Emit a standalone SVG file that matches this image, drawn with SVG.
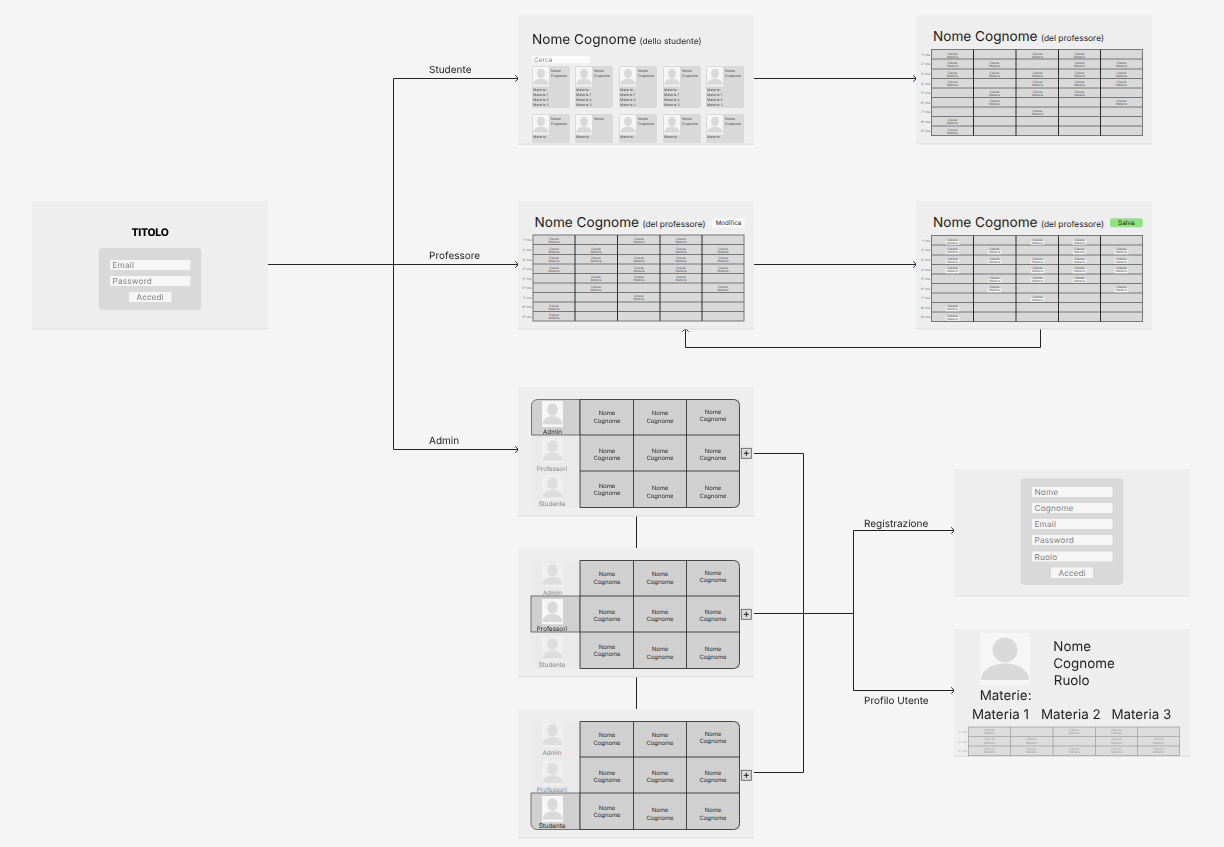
<svg xmlns="http://www.w3.org/2000/svg" width="1224" height="847" viewBox="0 0 1224 847">
<style>
text{font-family:Inter,"Noto Sans","Liberation Sans",sans-serif;fill:#1a1a1a;text-rendering:geometricPrecision}
.panel{fill:#eeeeee}
.sh{fill:#e3e3e3}
.card{fill:#d9d9d9}
.inp{fill:#f6f6f6}
.ph{font-size:8.2px;fill:#808080;letter-spacing:.2px}
.btn{font-size:8.2px;fill:#808080;text-anchor:middle}
.t1{font-size:13.6px}
.t2{font-size:8.4px}
.lab{font-size:10px}
.s{font-size:3.5px;fill:#444}
.c{font-size:3.1px;fill:#555;text-anchor:middle}
.r{font-size:3.1px;fill:#666;text-anchor:end}
.fc{font-size:3.1px;fill:#999;text-anchor:middle}
.fr{font-size:3.1px;fill:#aaa;text-anchor:end}
.n{font-size:5.9px;fill:#2a2a2a;text-anchor:middle}
.al{font-size:6.3px;text-anchor:middle}
.off{fill:#888}
.on{fill:#222}
.big{font-size:13.4px;fill:#222}
.conn path{fill:none;stroke:#222;stroke-width:1}
.arr{marker-end:url(#a)}
.gb{fill:#d9d9d9;stroke:#757575;stroke-width:1}
.gh{stroke:#757575;stroke-width:1}
.gv{stroke:#2a2a2a;stroke-width:1}
.acell{fill:#d0d0d0}
.ag{stroke:#333;stroke-width:.9;fill:none}
</style>
<defs>
<marker id="a" markerUnits="userSpaceOnUse" markerWidth="8" markerHeight="8" refX="4.5" refY="4" orient="auto"><path d="M1.800 .8L4.800 4L1.800 7.200" fill="none" stroke="#222" stroke-width="1"/></marker>
<symbol id="av" viewBox="0 0 50 52" preserveAspectRatio="none"><rect width="50" height="52" fill="#f6f6f6"/><circle cx="25" cy="17" r="12.500" fill="#d9d9d9"/><path d="M1 47C1 37 12 30.500 25 30.500C38 30.500 49 37 49 47Z" fill="#d9d9d9"/></symbol>
<symbol id="avf" viewBox="0 0 50 52" preserveAspectRatio="none"><rect width="50" height="52" fill="#efefef"/><circle cx="25" cy="17" r="12.500" fill="#dddddd"/><path d="M1 47C1 37 12 30.500 25 30.500C38 30.500 49 37 49 47Z" fill="#dddddd"/></symbol>
<g id="grid">
<rect class="gb" width="211" height="86"/>
<path class="gh" d="M0 9.500H211M0 19.500H211M0 29H211M0 38.500H211M0 48H211M0 57.500H211M0 67H211M0 76.500H211"/>
<path class="gv" d="M42 0V86M84.500 0V86M127 0V86M169 0V86"/>
<text class="r" x="-1.500" y="6">1° ora</text><text class="r" x="-1.500" y="15.500">2° ora</text><text class="r" x="-1.500" y="25.500">3° ora</text><text class="r" x="-1.500" y="35">4° ora</text><text class="r" x="-1.500" y="44.500">5° ora</text><text class="r" x="-1.500" y="54">6° ora</text><text class="r" x="-1.500" y="63.500">7° ora</text><text class="r" x="-1.500" y="73">8° ora</text><text class="r" x="-1.500" y="82.500">9° ora</text>
</g>
<g id="cells">
<text class="c" x="21" y="5">Classe</text><text class="c" x="21" y="8.200">Materia</text>
<text class="c" x="106" y="5">Classe</text><text class="c" x="106" y="8.200">Materia</text>
<text class="c" x="148" y="5">Classe</text><text class="c" x="148" y="8.200">Materia</text>
<text class="c" x="21" y="14.500">Classe</text><text class="c" x="21" y="17.700">Materia</text>
<text class="c" x="63" y="14.500">Classe</text><text class="c" x="63" y="17.700">Materia</text>
<text class="c" x="148" y="14.500">Classe</text><text class="c" x="148" y="17.700">Materia</text>
<text class="c" x="190" y="14.500">Classe</text><text class="c" x="190" y="17.700">Materia</text>
<text class="c" x="21" y="24">Classe</text><text class="c" x="21" y="27.200">Materia</text>
<text class="c" x="63" y="24">Classe</text><text class="c" x="63" y="27.200">Materia</text>
<text class="c" x="106" y="24">Classe</text><text class="c" x="106" y="27.200">Materia</text>
<text class="c" x="148" y="24">Classe</text><text class="c" x="148" y="27.200">Materia</text>
<text class="c" x="190" y="24">Classe</text><text class="c" x="190" y="27.200">Materia</text>
<text class="c" x="21" y="33.500">Classe</text><text class="c" x="21" y="36.700">Materia</text>
<text class="c" x="106" y="33.500">Classe</text><text class="c" x="106" y="36.700">Materia</text>
<text class="c" x="148" y="33.500">Classe</text><text class="c" x="148" y="36.700">Materia</text>
<text class="c" x="190" y="33.500">Classe</text><text class="c" x="190" y="36.700">Materia</text>
<text class="c" x="63" y="43">Classe</text><text class="c" x="63" y="46.200">Materia</text>
<text class="c" x="106" y="43">Classe</text><text class="c" x="106" y="46.200">Materia</text>
<text class="c" x="148" y="43">Classe</text><text class="c" x="148" y="46.200">Materia</text>
<text class="c" x="63" y="52.500">Classe</text><text class="c" x="63" y="55.700">Materia</text>
<text class="c" x="190" y="52.500">Classe</text><text class="c" x="190" y="55.700">Materia</text>
<text class="c" x="106" y="62">Classe</text><text class="c" x="106" y="65.200">Materia</text>
<text class="c" x="21" y="71.500">Classe</text><text class="c" x="21" y="74.700">Materia</text>
<text class="c" x="21" y="81">Classe</text><text class="c" x="21" y="84.200">Materia</text>
</g>
<g id="chip"><rect x="-6.700" y="-2.800" width="13.400" height="3.800" fill="#f6f6f6"/></g>
<g id="scard">
<rect class="card" width="38" height="42" rx="2.500"/><use href="#av" x="1" y="1" width="16" height="19.500"/>
<text class="s" x="19" y="6">Nome</text><text class="s" x="19" y="11">Cognome</text>
<text class="s" x="1" y="25">Materie:</text><text class="s" x="1" y="30">Materia 1</text><text class="s" x="1" y="35">Materia 2</text><text class="s" x="1" y="40">Materia 3</text>
</g>
<g id="scard2">
<rect class="card" width="38" height="29" rx="2.500"/><use href="#av" x="1" y="1" width="16" height="19.500"/>
<text class="s" x="19" y="6">Nome</text><text class="s" x="19" y="11">Cognome</text>
<text class="s" x="1" y="24">Materie:</text>
</g>
<g id="atable">
<rect class="acell" x="580" y="399.500" width="159.500" height="108"/>
<path d="M580 399.500H733.500a6 6 0 0 1 6 6V501.500a6 6 0 0 1-6 6H580" class="ag"/>
<path class="ag" d="M580 399.500V507.500M633.500 399.500V507.500M686.500 399.500V507.500M580 435H739.500M580 471H739.500"/>
<text class="n" x="607" y="415">Nome</text><text class="n" x="607" y="422.500">Cognome</text>
<text class="n" x="660" y="415">Nome</text><text class="n" x="660" y="422.500">Cognome</text>
<text class="n" x="713" y="413.500">Nome</text><text class="n" x="713" y="421">Cognome</text>
<text class="n" x="607" y="452.500">Nome</text><text class="n" x="607" y="460">Cognome</text>
<text class="n" x="660" y="452.500">Nome</text><text class="n" x="660" y="460">Cognome</text>
<text class="n" x="713" y="452.500">Nome</text><text class="n" x="713" y="460">Cognome</text>
<text class="n" x="607" y="487.500">Nome</text><text class="n" x="607" y="495">Cognome</text>
<text class="n" x="660" y="490">Nome</text><text class="n" x="660" y="497.500">Cognome</text>
<text class="n" x="713" y="490">Nome</text><text class="n" x="713" y="497.500">Cognome</text>
<rect x="741.300" y="448.300" width="10" height="10" fill="#dcdcdc" stroke="#555" stroke-width=".8"/>
<path d="M743.800 453.300h5M746.300 450.800v5" stroke="#222" stroke-width="1"/>
</g>
<clipPath id="pc"><rect x="518" y="15" width="236" height="128.500"/></clipPath>
</defs>
<rect width="1224" height="847" fill="#f5f5f5"/>
<g opacity=".995">

<g id="connectors" class="conn">
<path class="arr" d="M268 264.500H518"/>
<path class="arr" d="M393.500 264.500V78.500H518"/>
<path class="arr" d="M393.500 264.500V449.500H518"/>
<path class="arr" d="M754 78.500H916"/>
<path class="arr" d="M754 264.500H916"/>
<path class="arr" d="M1040.500 328V347.500H685.500V329"/>
<path d="M636.500 515V548M636.500 676V709"/>
<path d="M752 453.500H803.500V772.500H752"/>
<path d="M752 613.500H853.500"/>
<path class="arr" d="M853.500 613.500V530.500H954"/>
<path class="arr" d="M853.500 613.500V690.500H954"/>
<text class="lab" x="429" y="73">Studente</text>
<text class="lab" x="429" y="258.500">Professore</text>
<text class="lab" x="429" y="443.500">Admin</text>
<text class="lab" x="864" y="527">Registrazione</text>
<text class="lab" x="864" y="704">Profilo Utente</text>
</g>

<g id="login">
<rect class="sh" x="32" y="202.500" width="236" height="127"/><rect class="panel" x="32" y="201" width="236" height="127"/>
<text x="150" y="236" font-size="10.500" font-weight="800" letter-spacing="-.3" text-anchor="middle" style="fill:#000">TITOLO</text>
<rect class="card" x="98.700" y="248" width="102.600" height="62" rx="4"/>
<rect class="inp" x="110" y="260" width="80.500" height="10" rx="1"/><text class="ph" x="112.500" y="268">Email</text>
<rect class="inp" x="110" y="276" width="80.500" height="10" rx="1"/><text class="ph" x="112.500" y="284">Password</text>
<rect class="inp" x="129" y="292" width="42.500" height="10" rx="1"/><text class="btn" x="150" y="300">Accedi</text>
</g>

<g id="student">
<rect class="sh" x="518" y="16.500" width="236" height="128.500"/><rect class="panel" x="518" y="15" width="236" height="128.500"/>
<text class="t1" x="532" y="44.300">Nome Cognome</text><text class="t2" x="639.500" y="44">(dello studente)</text>
<rect x="532" y="56" width="58" height="7" fill="#fbfbfb"/><text x="534" y="62" font-size="6.500" style="fill:#888">Cerca</text>
<use href="#scard" x="532" y="66"/><use href="#scard" x="575" y="66"/><use href="#scard" x="619" y="66"/><use href="#scard" x="663" y="66"/><use href="#scard" x="706" y="66"/>
<g clip-path="url(#pc)">
<use href="#scard2" x="532" y="114"/>
<rect class="card" x="575" y="114" width="38" height="29" rx="2.500"/><use href="#av" x="576" y="115" width="16" height="19.500"/><text class="s" x="594" y="120">Nome</text><text class="s" x="576" y="138">Materie:</text>
<use href="#scard2" x="619" y="114"/><use href="#scard2" x="663" y="114"/><use href="#scard2" x="706" y="114"/>
</g>
</g>

<g id="prof-view">
<rect class="sh" x="916" y="16.500" width="236" height="128"/><rect class="panel" x="916" y="15" width="236" height="128"/>
<text class="t1" x="933" y="40.800">Nome Cognome</text><text class="t2" x="1041" y="41">(del professore)</text>
<g transform="translate(931.500 49.500)"><use href="#grid"/><use href="#cells"/></g>
</g>

<g id="prof">
<rect class="sh" x="518" y="202.500" width="236" height="127"/><rect class="panel" x="518" y="201" width="236" height="127"/>
<text class="t1" x="534.500" y="226.800">Nome Cognome</text><text class="t2" x="642.500" y="227">(del professore)</text>
<rect x="712" y="218.500" width="33" height="9" rx="2" fill="#fafafa"/><text x="728.500" y="225.300" font-size="6.200" text-anchor="middle">Modifica</text>
<g transform="translate(533 235)"><use href="#grid"/><use href="#cells"/></g>
</g>

<g id="prof-edit">
<rect class="sh" x="916" y="202.500" width="236" height="127"/><rect class="panel" x="916" y="201" width="236" height="127"/>
<text class="t1" x="933" y="226.800">Nome Cognome</text><text class="t2" x="1041" y="227">(del professore)</text>
<rect x="1110" y="218.300" width="32.700" height="9" rx="2" fill="#8fe282"/><text x="1126.400" y="225.200" font-size="6.500" text-anchor="middle">Salva</text>
<g transform="translate(931.500 235.500)"><use href="#grid"/>
<use href="#chip" x="21" y="8.200"/><use href="#chip" x="106" y="8.200"/><use href="#chip" x="148" y="8.200"/>
<use href="#chip" x="21" y="17.700"/><use href="#chip" x="63" y="17.700"/><use href="#chip" x="148" y="17.700"/><use href="#chip" x="190" y="17.700"/>
<use href="#chip" x="21" y="27.200"/><use href="#chip" x="63" y="27.200"/><use href="#chip" x="106" y="27.200"/><use href="#chip" x="148" y="27.200"/><use href="#chip" x="190" y="27.200"/>
<use href="#chip" x="21" y="36.700"/><use href="#chip" x="106" y="36.700"/><use href="#chip" x="148" y="36.700"/><use href="#chip" x="190" y="36.700"/>
<use href="#chip" x="63" y="46.200"/><use href="#chip" x="106" y="46.200"/><use href="#chip" x="148" y="46.200"/>
<use href="#chip" x="63" y="55.700"/><use href="#chip" x="190" y="55.700"/>
<use href="#chip" x="106" y="65.200"/><use href="#chip" x="21" y="74.700"/><use href="#chip" x="21" y="84.200"/>
<use href="#cells"/></g>
</g>

<g id="admin-1">
<rect class="sh" x="518" y="388.500" width="236" height="128"/><rect class="panel" x="518" y="387" width="236" height="128"/>
<path d="M531.500 435V405.500a6 6 0 0 1 6-6H580V507.500H537.500a6 6 0 0 1-6-6Z" fill="#eaeaea"/>
<path d="M531.500 435V405.500a6 6 0 0 1 6-6H580V435Z" fill="#d0d0d0" stroke="#555" stroke-width=".8"/>
<use href="#av" x="542" y="401" width="21" height="26"/><text class="al on" x="552.500" y="433.500">Admin</text>
<use href="#avf" x="542" y="438" width="21" height="25"/><text class="al off" x="552" y="470.500">Professori</text>
<use href="#avf" x="542" y="475" width="21" height="25"/><text class="al off" x="552" y="505.500">Studente</text>
<use href="#atable"/>
</g>

<g id="admin-2">
<rect class="sh" x="518" y="549.500" width="236" height="128"/><rect class="panel" x="518" y="548" width="236" height="128"/>
<path d="M531.500 566.500a6 6 0 0 1 6-6H580V668.500H537.500a6 6 0 0 1-6-6Z" fill="#eaeaea"/>
<rect x="531" y="596" width="49" height="36" fill="#d0d0d0" stroke="#555" stroke-width=".8"/>
<use href="#avf" x="542" y="562" width="21" height="25"/><text class="al off" x="552.500" y="594.500">Admin</text>
<use href="#av" x="542" y="599" width="21" height="25.500"/><text class="al on" x="552" y="630.500">Professori</text>
<use href="#avf" x="542" y="636" width="21" height="25"/><text class="al off" x="552" y="666.500">Studente</text>
<use href="#atable" y="161"/>
</g>

<g id="admin-3">
<rect class="sh" x="518" y="710.500" width="236" height="128"/><rect class="panel" x="518" y="709" width="236" height="128"/>
<path d="M531.500 727.500a6 6 0 0 1 6-6H580V829.500H537.500a6 6 0 0 1-6-6Z" fill="#eaeaea"/>
<path d="M531 793H580V829.500H537a6 6 0 0 1-6-6Z" fill="#d0d0d0" stroke="#555" stroke-width=".8"/>
<use href="#avf" x="542" y="722" width="21" height="25.500"/><text class="al off" x="552" y="755">Admin</text>
<use href="#avf" x="542" y="760.500" width="21" height="25"/><text class="al off" x="552" y="792">Professori</text>
<use href="#av" x="542" y="796" width="21" height="26"/><text class="al on" x="552" y="828">Studente</text>
<use href="#atable" y="322"/>
</g>

<g id="registrazione">
<rect class="sh" x="954" y="470.500" width="236" height="126"/><rect class="panel" x="954" y="469" width="236" height="126"/>
<rect class="card" x="1020.700" y="478.300" width="102.600" height="106.700" rx="4"/>
<rect class="inp" x="1032" y="487" width="80.500" height="10" rx="1"/><text class="ph" x="1034.500" y="495">Nome</text>
<rect class="inp" x="1032" y="503" width="80.500" height="10" rx="1"/><text class="ph" x="1034.500" y="511">Cognome</text>
<rect class="inp" x="1032" y="519" width="80.500" height="10" rx="1"/><text class="ph" x="1034.500" y="527">Email</text>
<rect class="inp" x="1032" y="535" width="80.500" height="10" rx="1"/><text class="ph" x="1034.500" y="543">Password</text>
<rect class="inp" x="1032" y="551.500" width="80.500" height="10" rx="1"/><text class="ph" x="1034.500" y="559.500">Ruolo</text>
<rect class="inp" x="1051" y="567.500" width="42" height="10.500" rx="1"/><text class="btn" x="1072" y="575.500">Accedi</text>
</g>

<g id="profilo">
<rect class="sh" x="954" y="630.500" width="236" height="126.500"/><rect class="panel" x="954" y="629" width="236" height="126.500"/>
<use href="#av" x="980" y="633" width="50" height="52"/>
<text class="big" x="1053.300" y="651">Nome</text><text class="big" x="1053.300" y="668">Cognome</text><text class="big" x="1053.800" y="685">Ruolo</text>
<text class="big" x="979.700" y="700">Materie:</text>
<text class="big" x="972" y="718.500">Materia 1</text><text class="big" x="1041" y="718.500">Materia 2</text><text class="big" x="1111.500" y="718.500">Materia 3</text>
<g transform="translate(968.500 727)">
<rect width="211" height="28.700" fill="#dcdcdc" stroke="#999" stroke-width=".7"/>
<path d="M0 9.500H211M0 19H211M42 0V28.700M84.500 0V28.700M127 0V28.700M169 0V28.700" stroke="#999" stroke-width=".7"/>
<text class="fr" x="-1.500" y="6">1° ora</text><text class="fr" x="-1.500" y="15.500">2° ora</text><text class="fr" x="-1.500" y="25">3° ora</text>
<text class="fc" x="21" y="3.800">Classe</text><text class="fc" x="21" y="7">Materia</text><text class="fc" x="106" y="3.800">Classe</text><text class="fc" x="106" y="7">Materia</text><text class="fc" x="148" y="3.800">Classe</text><text class="fc" x="148" y="7">Materia</text>
<text class="fc" x="21" y="13.300">Classe</text><text class="fc" x="21" y="16.500">Materia</text><text class="fc" x="63" y="13.300">Classe</text><text class="fc" x="63" y="16.500">Materia</text><text class="fc" x="148" y="13.300">Classe</text><text class="fc" x="148" y="16.500">Materia</text><text class="fc" x="190" y="13.300">Classe</text><text class="fc" x="190" y="16.500">Materia</text>
<text class="fc" x="21" y="23">Classe</text><text class="fc" x="21" y="26.200">Materia</text><text class="fc" x="63" y="23">Classe</text><text class="fc" x="63" y="26.200">Materia</text><text class="fc" x="106" y="23">Classe</text><text class="fc" x="106" y="26.200">Materia</text><text class="fc" x="148" y="23">Classe</text><text class="fc" x="148" y="26.200">Materia</text><text class="fc" x="190" y="23">Classe</text><text class="fc" x="190" y="26.200">Materia</text>
</g>
</g>
</g>
</svg>
